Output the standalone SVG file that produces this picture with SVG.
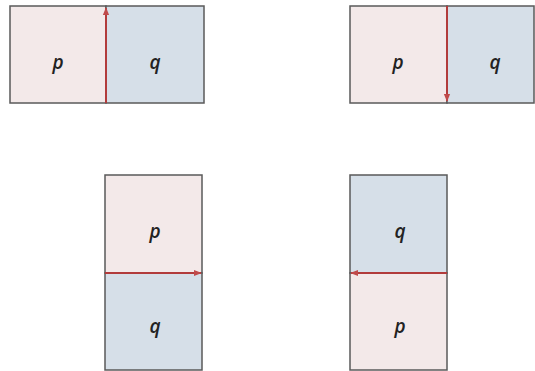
<svg xmlns="http://www.w3.org/2000/svg" width="535" height="371" viewBox="0 0 535 371">
<style>
.p{fill:#f3e9e9;stroke:#5a5a5a;stroke-width:1.5}
.q{fill:#d6dfe8;stroke:#5a5a5a;stroke-width:1.5}
.e{stroke:#b23b3b;stroke-width:2;fill:none}
.t{font-family:"Open Sans","DejaVu Sans",sans-serif;font-style:italic;font-weight:600;font-size:19px;fill:#222;text-anchor:middle;dominant-baseline:central}
</style>
<defs>
<marker id="ah" viewBox="0 0 10 10" refX="9" refY="5" markerWidth="4" markerHeight="4" orient="auto"><path d="M0,1 L10,5 L0,9 z" fill="#c04a4a"/></marker>
</defs>
<g id="panel1">
<rect class="p" x="10" y="6" width="96" height="97"/>
<rect class="q" x="106" y="6" width="98" height="97"/>
<text class="t" x="58" y="62">p</text>
<text class="t" x="155" y="62">q</text>
</g>
<g id="panel2">
<rect class="p" x="350" y="6" width="97" height="97"/>
<rect class="q" x="447" y="6" width="87" height="97"/>
<text class="t" x="398" y="62">p</text>
<text class="t" x="495" y="62">q</text>
</g>
<g id="panel3">
<rect class="p" x="105" y="175" width="97" height="98"/>
<rect class="q" x="105" y="273" width="97" height="97"/>
<text class="t" x="155" y="231">p</text>
<text class="t" x="155" y="326">q</text>
</g>
<g id="panel4">
<rect class="q" x="350" y="175" width="97" height="98"/>
<rect class="p" x="350" y="273" width="97" height="97"/>
<text class="t" x="400" y="231">q</text>
<text class="t" x="400" y="326">p</text>
</g>
<g id="connectors">
<line class="e" x1="106" y1="103" x2="106" y2="8" marker-end="url(#ah)"/>
<line class="e" x1="447" y1="6" x2="447" y2="101" marker-end="url(#ah)"/>
<line class="e" x1="105" y1="273" x2="201" y2="273" marker-end="url(#ah)"/>
<line class="e" x1="447" y1="273" x2="351" y2="273" marker-end="url(#ah)"/>
</g>
</svg>
